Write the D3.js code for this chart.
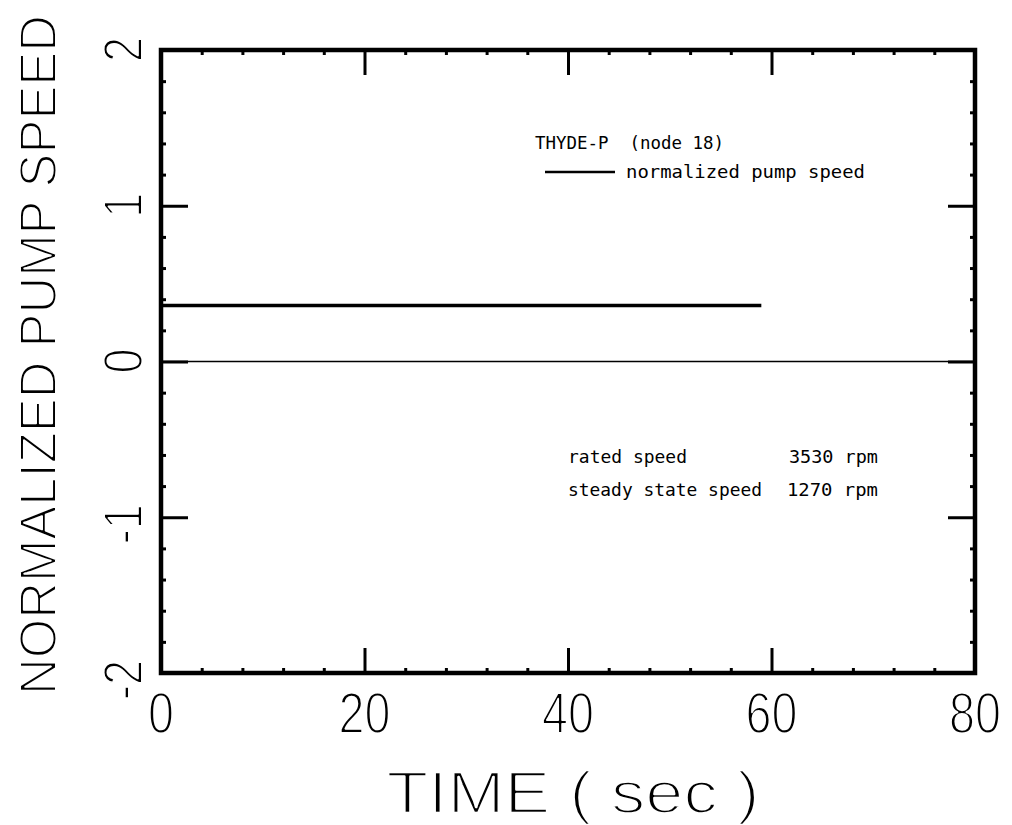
<!DOCTYPE html>
<html>
<head>
<meta charset="utf-8">
<script src="https://cdn.jsdelivr.net/npm/d3@7"></script>
<style>
  html, body { margin: 0; padding: 0; background: #fff; }
  svg { display: block; }
  /* thin plotter-style lettering: fill first, then a white outline trims the strokes */
  .thin { stroke: #fff; paint-order: fill stroke; stroke-linejoin: round; }
  .mono { white-space: pre; }
</style>
</head>
<body>
<svg id="chart" width="1012" height="825"></svg>
<script>
// Pump speed history (normalized to rated speed)
const timeSec = [0, 10, 20, 30, 40, 50, 59];
const pumpSpeed = [0.36, 0.36, 0.36, 0.36, 0.36, 0.36, 0.36];

const xTickLabels = [0, 20, 40, 60, 80];
const yTickLabels = [2, 1, 0, -1, -2];
const xMajor = [20, 40, 60];
const yMajor = [1, 0, -1];
const xMinor = d3.range(4, 80, 4).filter(v => v % 20 !== 0);
const yMinor = d3.range(-18, 20, 2).map(v => v / 10).filter(v => Math.abs(v * 10) % 10 !== 0);

const legendTitle = "THYDE-P  (node 18)";
const legendLabel = "normalized pump speed";
const noteRows = [["rated speed", "3530 rpm"], ["steady state speed", "1270 rpm"]];

const svg = d3.select("#chart");
const L = 161, R = 975, T = 50, B = 673;
const x = d3.scaleLinear().domain([0, 80]).range([L, R]);
const y = d3.scaleLinear().domain([-2, 2]).range([B, T]);

const ink = "#000";
const plotFont = "'Liberation Sans', Arial, sans-serif";
const monoFont = "'DejaVu Sans Mono', 'Liberation Mono', monospace";

// zero reference line
svg.append("line")
  .attr("x1", x(0)).attr("x2", x(80))
  .attr("y1", y(0)).attr("y2", y(0))
  .attr("stroke", ink).attr("stroke-width", 1.3);

// tick marks on all four sides, pointing inward
function ticks(axisFn, transform, values, size, width) {
  const g = svg.append("g").attr("transform", transform)
    .call(axisFn.tickValues(values).tickSizeInner(-size).tickSizeOuter(0).tickFormat(""));
  g.select(".domain").remove();
  g.selectAll(".tick line").attr("stroke", ink).attr("stroke-width", width);
}
ticks(d3.axisBottom(x), `translate(0,${B})`, xMajor, 25, 3);
ticks(d3.axisTop(x), `translate(0,${T})`, xMajor, 25, 3);
ticks(d3.axisBottom(x), `translate(0,${B})`, xMinor, 5, 3);
ticks(d3.axisTop(x), `translate(0,${T})`, xMinor, 5, 3);
ticks(d3.axisLeft(y), `translate(${L},0)`, yMajor, 27, 3);
ticks(d3.axisRight(y), `translate(${R},0)`, yMajor, 27, 3);
ticks(d3.axisLeft(y), `translate(${L},0)`, yMinor, 5, 3);
ticks(d3.axisRight(y), `translate(${R},0)`, yMinor, 5, 3);

// frame
svg.append("rect")
  .attr("x", L).attr("y", T).attr("width", R - L).attr("height", B - T)
  .attr("fill", "none").attr("stroke", ink).attr("stroke-width", 4.5);

// data line
const line = d3.line().x((d, i) => x(timeSec[i])).y(d => y(d));
svg.append("path")
  .datum(pumpSpeed)
  .attr("d", line)
  .attr("fill", "none").attr("stroke", ink).attr("stroke-width", 3.5);

// x tick labels
svg.append("g").selectAll("text").data(xTickLabels).join("text")
  .attr("class", "thin").attr("stroke-width", 2)
  .attr("transform", d => `translate(${x(d)},733) scale(0.82,1)`)
  .attr("text-anchor", "middle")
  .attr("font-family", plotFont).attr("font-size", 57)
  .attr("fill", ink)
  .text(d => d);

// y tick labels, rotated; the digit sits centred on its tick
svg.append("g").selectAll("text").data(yTickLabels).join("text")
  .attr("class", "thin").attr("stroke-width", 2)
  .attr("transform", d => `translate(142,${y(d) - 13}) rotate(-90) scale(0.82,1)`)
  .attr("text-anchor", "end")
  .attr("font-family", plotFont).attr("font-size", 55)
  .attr("fill", ink)
  .text(d => d < 0 ? "-" + Math.abs(d) : String(d));

// axis titles
svg.append("text")
  .attr("class", "thin").attr("stroke-width", 2.4)
  .attr("x", 573).attr("y", 813)
  .attr("text-anchor", "middle")
  .attr("font-family", plotFont).attr("font-size", 60)
  .attr("textLength", 373).attr("lengthAdjust", "spacingAndGlyphs")
  .attr("fill", ink)
  .text("TIME ( sec )");

svg.append("text")
  .attr("class", "thin").attr("stroke-width", 2)
  .attr("transform", "translate(56,355) rotate(-90)")
  .attr("text-anchor", "middle")
  .attr("font-family", plotFont).attr("font-size", 52)
  .attr("textLength", 680).attr("lengthAdjust", "spacingAndGlyphs")
  .attr("fill", ink)
  .text("NORMALIZED PUMP SPEED");

// legend
function mono(txt, x0, y0, len) {
  svg.append("text")
    .attr("class", "mono")
    .attr("x", x0).attr("y", y0)
    .attr("font-family", monoFont).attr("font-size", 18.5)
    .attr("textLength", len).attr("lengthAdjust", "spacingAndGlyphs")
    .attr("fill", ink)
    .text(txt);
}
mono(legendTitle, 535, 149, 189);
svg.append("line")
  .attr("x1", 545).attr("x2", 615).attr("y1", 172).attr("y2", 172)
  .attr("stroke", ink).attr("stroke-width", 2.5);
mono(legendLabel, 626, 178, 239);

// operating notes
mono(noteRows[0][0], 568, 463, 119);
mono(noteRows[0][1], 789, 463, 89);
mono(noteRows[1][0], 568, 496, 194);
mono(noteRows[1][1], 787, 496, 91);
</script>
</body>
</html>
